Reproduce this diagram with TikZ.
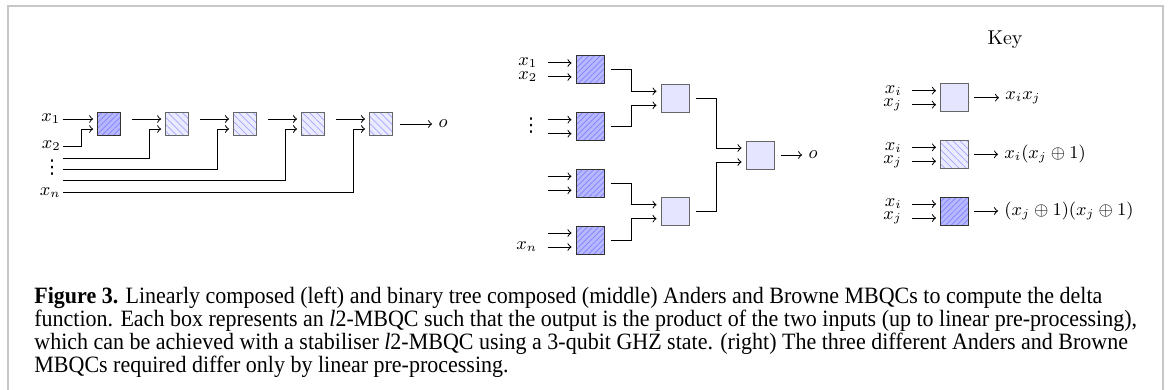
\documentclass[tikz,border=0pt]{standalone}
\usepackage{amsmath}
\usepackage{amssymb}
\usepackage{fontspec}
\newfontfamily\capfont[FakeStretch=0.94]{Liberation Serif}
\newfontfamily\symfont{DejaVu Sans}
\usetikzlibrary{positioning,patterns.meta}

\tikzset{
  box/.style={draw=black!60, fill=blue!10, minimum size=14pt, inner sep=0pt, line width=0.5pt},
  boxA/.style={box, draw=black!80, preaction={fill=blue!28},
    pattern={Lines[angle=45,distance=2pt,line width=0.35pt]}, pattern color=blue!50},
  boxB/.style={box, preaction={fill=blue!8},
    pattern={Lines[angle=-45,distance=2.5pt,line width=0.35pt]}, pattern color=blue!35},
  lin/.style={minimum size=11.5pt},
  arr/.style={->, shorten >=2pt, line width=0.5pt},
  lbl/.style={inner sep=1pt, font=\small},
  tlbl/.style={lbl, inner xsep=5pt, inner ysep=0pt, anchor=east},
  dotsl/.style={inner sep=0pt, font=\symfont\fontsize{9.5}{9.5}\selectfont},
}

\begin{document}
\begin{tikzpicture}[x=0.5pt, y=-0.5pt]
  \useasboundingbox (0,0) rectangle (1170,390);
  \draw[black!22, line width=1pt] (8,390) -- (8,6) -- (1163,6) -- (1163,390);

  % Define nodes: linear chain
  \node[boxA, lin] (c1) at (109,124) {};
  \foreach \i/\x in {2/177,3/245,4/313,5/381}
    \node[boxB, lin] (c\i) at (\x,124) {};
  \foreach \i in {1,...,5} {
    \coordinate (c\i-a) at ([yshift=2.5pt]c\i.west);
    \coordinate (c\i-b) at ([yshift=-2.5pt]c\i.west);
    \coordinate (c\i-o) at ([xshift=5.5pt,yshift=2.5pt]c\i.east);
  }
  \node[lbl, anchor=east] (x1) at ([xshift=-17.3pt]c1-a) {$x_1$};
  \node[lbl, anchor=east] (x2) at (63,146) {$x_2$};
  \node[dotsl] (dots1) at (52,168) {⋮};
  \node[lbl, anchor=east] (xn) at (63,192.3) {$x_n$};
  \node[lbl] (o1) at (443,124) {$o$};
  \coordinate (w2) at (63,158.3);
  \coordinate (w3) at (63,169);
  \coordinate (w4) at (63,180);

  % Define nodes: binary tree
  \node[boxA] (l1) at (590,70) {};
  \node[boxA] (l2) at (590,126.7) {};
  \node[boxA] (l3) at (590,183.3) {};
  \node[boxA] (l4) at (590,240) {};
  \node[box] (m1) at (675,98.3) {};
  \node[box] (m2) at (675,211.7) {};
  \node[box] (r) at (760,155) {};
  \node[lbl] (o2) at (813,155) {$o$};

  % Define nodes: key
  \node (key) at (1005,40) {Key};
  \node[box] (k1) at (954.5,97.7) {};
  \node[boxB] (k2) at (954.5,154.3) {};
  \node[boxA] (k3) at (954.5,211) {};
  \node[lbl, right=17pt of k1] (f1) {$x_ix_j$};
  \node[lbl, right=16.5pt of k2] (f2) {$x_i(x_j\oplus 1)$};
  \node[lbl, right=16.5pt of k3] (f3) {$(x_j\oplus 1)(x_j\oplus 1)$};

  \foreach \b in {l1,l2,l3,l4,m1,m2,r,k1,k2,k3} {
    \coordinate (\b-a) at ([yshift=3.5pt]\b.west);
    \coordinate (\b-b) at ([yshift=-3.5pt]\b.west);
    \coordinate (\b-ia) at ([xshift=-14pt]\b-a);
    \coordinate (\b-ib) at ([xshift=-14pt]\b-b);
  }
  \node[tlbl] (t1) at (l1-ia) {$x_1$};
  \node[tlbl] (t2) at (l1-ib) {$x_2$};
  \node[dotsl] (dots2) at (531,126) {⋮};
  \node[tlbl] (tn) at (l4-ib) {$x_n$};
  \foreach \k in {1,2,3} {
    \node[tlbl] (xi\k) at (k\k-ia) {$x_i$};
    \node[tlbl] (xj\k) at (k\k-ib) {$x_j$};
  }

  % Caption
  \node[anchor=north west, align=left, inner sep=0pt,
    font=\capfont\fontsize{11.7}{11.5}\selectfont] (cap) at (34,287)
    {\textbf{Figure 3.} Linearly composed (left) and binary tree composed (middle) Anders and Browne MBQCs to compute the delta\\
     function. Each box represents an \textit{l}2-MBQC such that the output is the product of the two inputs (up to linear pre-processing),\\
     which can be achieved with a stabiliser \textit{l}2-MBQC using a 3-qubit GHZ state. (right) The three different Anders and Browne\\
     MBQCs required differ only by linear pre-processing.};

  % Connect the nodes: linear chain
  \draw[arr] (x1.east) -- (c1-a);
  \draw[arr] (x2.east) -| ([xshift=-8pt]c1-b) -- (c1-b);
  \draw[arr] (w2) -| ([xshift=-8pt]c2-b) -- (c2-b);
  \draw[arr] (w3) -| ([xshift=-8pt]c3-b) -- (c3-b);
  \draw[arr] (w4) -| ([xshift=-8pt]c4-b) -- (c4-b);
  \draw[arr] (xn.east) -| ([xshift=-8pt]c5-b) -- (c5-b);
  \foreach \i/\j in {1/2,2/3,3/4,4/5}
    \draw[arr] (c\i-o) -- (c\j-a);
  \draw[arr] ([xshift=3.25pt]c5.east) -- (o1);

  % Connect the nodes: binary tree
  \foreach \b in {l1,l2,l3,l4} {
    \draw[arr] (\b-ia) -- (\b-a);
    \draw[arr] (\b-ib) -- (\b-b);
  }
  \draw[arr] ([xshift=3pt]l1.east) -| ([xshift=-14.3pt]m1-a) -- (m1-a);
  \draw[arr] ([xshift=3pt]l2.east) -| ([xshift=-14.3pt]m1-b) -- (m1-b);
  \draw[arr] ([xshift=3pt]l3.east) -| ([xshift=-14.3pt]m2-a) -- (m2-a);
  \draw[arr] ([xshift=3pt]l4.east) -| ([xshift=-14.3pt]m2-b) -- (m2-b);
  \draw[arr] ([xshift=3pt]m1.east) -| ([xshift=-14.3pt]r-a) -- (r-a);
  \draw[arr] ([xshift=3pt]m2.east) -| ([xshift=-14.3pt]r-b) -- (r-b);
  \draw[arr] ([xshift=3pt]r.east) -- (o2);

  % Connect the nodes: key
  \foreach \k in {1,2,3} {
    \draw[arr] (k\k-ia) -- (k\k-a);
    \draw[arr] (k\k-ib) -- (k\k-b);
    \draw[arr] ([xshift=2.5pt]k\k.east) -- (f\k);
  }
\end{tikzpicture}
\end{document}
